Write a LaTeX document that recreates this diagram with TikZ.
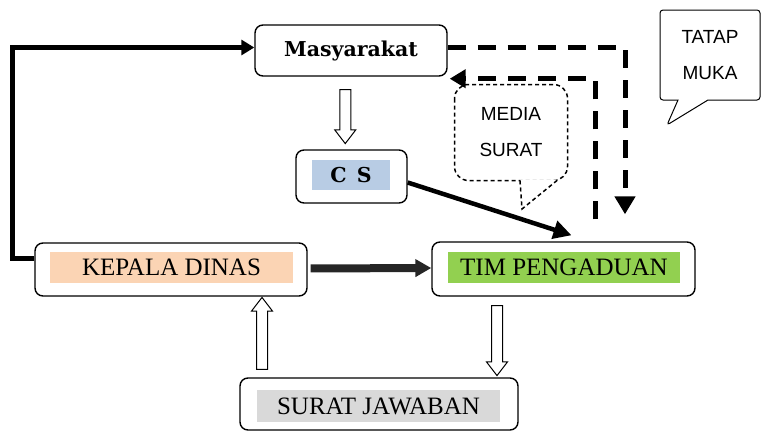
\documentclass[tikz,border=0pt]{standalone}
\usepackage{fontspec}
\setmainfont{Liberation Serif}
\newfontfamily\slabfont{DejaVu Serif}
\newfontfamily\notefont{Liberation Sans}
\usetikzlibrary{shapes.arrows, shapes.callouts, arrows.meta}
\definecolor{csblue}{RGB}{184,204,228}
\definecolor{kepalapeach}{RGB}{251,212,180}
\definecolor{timgreen}{RGB}{146,208,80}
\definecolor{suratgray}{RGB}{217,217,217}
\tikzset{
    box/.style={rectangle, draw=black, line width=1.4pt, rounded corners=8pt, fill=white},
    tag/.style={rectangle, inner sep=0pt, text centered, fill=#1, font=\fontsize{25}{28}\selectfont},
    slab/.style={font=\slabfont\bfseries\fontsize{20.5}{24}\selectfont},
    hollow/.style={single arrow, draw=black, line width=1pt, fill=white, inner sep=0pt, inner ysep=5pt, single arrow head extend=5pt, single arrow tip angle=75},
    solidarrow/.style={line width=4.5pt, -{Triangle[length=13pt, width=15pt]}},
    dasharrow/.style={line width=5pt, dash pattern=on 18pt off 12pt, -{Triangle[length=18pt, width=20pt]}},
    note/.style={draw=black, line width=1pt, fill=white, font=\notefont\fontsize{19}{36}\selectfont, align=center},
    notedash/.style={line width=1.5pt, dash pattern=on 4pt off 3pt}
}
\begin{document}
\begin{tikzpicture}[x=1pt, y=-1pt]
    \useasboundingbox (0,0) rectangle (761,431);

    % boxes
    \node (masy) [box, slab, minimum width=192pt, minimum height=51pt] at (351,50.5) {Masyarakat};
    \node (cs) [box, minimum width=111pt, minimum height=53pt] at (351.5,176.5) {};
    \node (csT) [tag=csblue, slab, minimum width=78pt, minimum height=30pt] at (351,175) {C\hspace{0.5em}S};
    \node (kepala) [box, minimum width=272pt, minimum height=53pt] at (171,269.5) {};
    \node (kepalaT) [tag=kepalapeach, minimum width=243pt, minimum height=31pt] at (171.5,267.5) {KEPALA DINAS};
    \node (tim) [box, minimum width=263pt, minimum height=54pt] at (563.5,269) {};
    \node (timT) [tag=timgreen, minimum width=232pt, minimum height=31pt] at (564,267.5) {TIM PENGADUAN};
    \node (surat) [box, minimum width=278pt, minimum height=52pt] at (379,404) {};
    \node (suratT) [tag=suratgray, minimum width=243pt, minimum height=32pt] at (378.5,406) {SURAT JAWABAN};

    % callouts
    \node (media) [note, draw=none, rounded corners=14pt, minimum width=112pt, minimum height=95pt] at (511,132.5) {MEDIA\\SURAT};
    \draw[notedash, rounded corners=14pt] (media.north west) rectangle (media.south east);
    \coordinate (mediaTip) at (522,209);
    \fill[white] ([xshift=9pt,yshift=1pt]media.south) -- (mediaTip) -- ([xshift=46pt,yshift=1pt]media.south) -- cycle;
    \draw[notedash] ([xshift=9pt]media.south) -- (mediaTip) -- ([xshift=46pt]media.south);
    \node (tatap) [note, rectangle callout, rounded corners=3pt, minimum width=100pt, minimum height=90pt,
        callout absolute pointer={(667,125)}, callout pointer width=30pt] at (710,55) {TATAP\\MUKA};

    % connectors
    \draw[solidarrow] ([yshift=11pt]kepala.west) -- ++(-22,0) |- ([yshift=3pt]masy.west);
    \draw[solidarrow, -{Triangle[length=18pt, width=18pt]}] ([yshift=-6pt]cs.east) -- ([xshift=8pt,yshift=6pt]tim.north);
    \draw[line width=8pt, black!85, -{Triangle[length=16pt, width=17pt]}, shorten <=3pt] ([yshift=1pt]kepala.east) -- ([yshift=1pt]tim.west);
    \draw[dasharrow] ([yshift=3pt]masy.east) -| ([xshift=61.5pt,yshift=27pt]tim.north);
    \draw[dasharrow, -{Triangle[length=16pt, width=18pt]}] ([xshift=31.5pt,yshift=22pt]tim.north) |- ([xshift=2pt,yshift=-2pt]masy.south east);

    % hollow arrows
    \path ([xshift=-6pt]masy.south) -- node[hollow, rotate=-90, minimum height=54pt] {} ([xshift=-6pt]cs.north);
    \path ([xshift=-117pt]surat.north) -- node[hollow, rotate=90, minimum height=72pt] {} ([xshift=91pt]kepala.south);
    \path ([xshift=-66.5pt]tim.south) -- node[hollow, rotate=-90, minimum height=70pt] {} ([xshift=118pt]surat.north);
\end{tikzpicture}
\end{document}
